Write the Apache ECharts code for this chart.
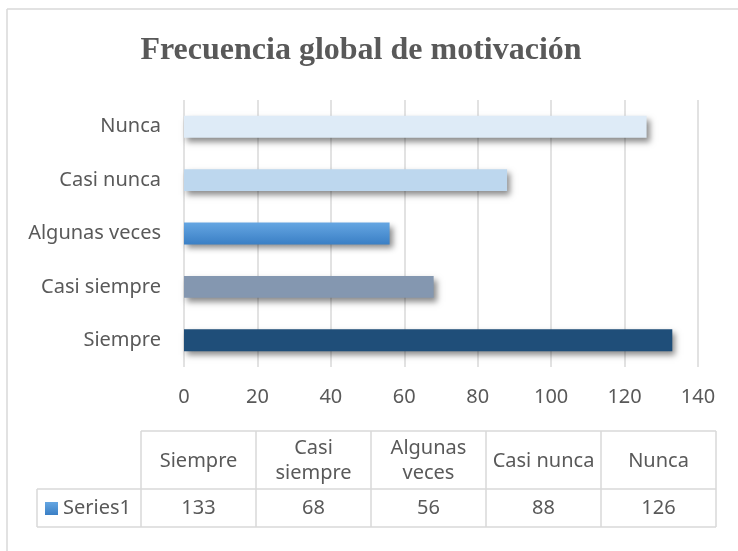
<!DOCTYPE html>
<html>
<head>
<meta charset="utf-8">
<script src="https://cdn.jsdelivr.net/npm/echarts@6/dist/echarts.min.js"></script>
<style>
  html, body { margin: 0; padding: 0; background: #fff; }
  #chart { width: 738px; height: 551px; }
</style>
</head>
<body>
<div id="chart"></div>
<script>
// categorías (de abajo hacia arriba) y valores
const categories = ['Siempre', 'Casi siempre', 'Algunas veces', 'Casi nunca', 'Nunca'];
const values = [133, 68, 56, 88, 126];
const seriesName = 'Series1';
const axisMin = 0;
const axisMax = 140;
const axisStep = 20;

const titleText = 'Frecuencia global de motivación';

// colores de cada barra
const blueGrad = { type: 'linear', x: 0, y: 0, x2: 0, y2: 1, colorStops: [{ offset: 0, color: '#65a6e2' }, { offset: 1, color: '#3a7fc5' }] };
const barColors = ['#1f4e79', '#8497b0', blueGrad, '#bdd7ee', '#deebf7'];

const textColor = '#595959';
const lineColor = '#d9d9d9';
const font = 'Noto Sans';
const fontSize = 20;

function buildTable () {
  const left = 141, colW = 115, top = 431, headH = 58, rowH = 38, keyLeft = 37;
  const right = left + colW * categories.length;
  const els = [];
  const css = fontSize + 'px "' + font + '"';
  const ctx = document.createElement('canvas').getContext('2d');
  ctx.font = css;

  const line = (x1, y1, x2, y2) => ({
    type: 'line', silent: true,
    shape: { x1: x1, y1: y1, x2: x2, y2: y2 },
    style: { stroke: lineColor, lineWidth: 1.5 }
  });
  const text = (x, y, s) => ({
    type: 'text', silent: true, x: x, y: y,
    style: { text: s, fill: textColor, font: css, align: 'center', verticalAlign: 'middle', lineHeight: 25 }
  });

  // marco exterior
  els.push(line(7, 9, 738, 9));
  els.push(line(7, 9, 7, 551));

  // líneas horizontales
  els.push(line(left, top, right, top));
  els.push(line(keyLeft, top + headH, right, top + headH));
  els.push(line(keyLeft, top + headH + rowH, right, top + headH + rowH));
  els.push(line(keyLeft, top + headH, keyLeft, top + headH + rowH));

  categories.forEach(function (name, i) {
    const x0 = left + colW * i;
    els.push(line(x0, top, x0, top + headH + rowH));
    let label = name;
    if (ctx.measureText(name).width > colW - 8) label = name.replace(' ', '\n');
    els.push(text(x0 + colW / 2, top + headH / 2 + 1, label));
    els.push(text(x0 + colW / 2, top + headH + rowH / 2, String(values[i])));
  });
  els.push(line(right, top, right, top + headH + rowH));

  // clave de la serie
  els.push({
    type: 'rect', silent: true,
    shape: { x: 45, y: top + headH + 13, width: 13, height: 13 },
    style: { fill: blueGrad }
  });
  els.push({
    type: 'text', silent: true, x: 63, y: top + headH + rowH / 2,
    style: { text: seriesName, fill: textColor, font: css, align: 'left', verticalAlign: 'middle' }
  });
  return els;
}

var myChart = echarts.init(document.getElementById('chart'));
var option = {
  backgroundColor: '#fff',
  animation: false,
  title: {
    text: titleText,
    left: 356,
    textAlign: 'center',
    top: 30,
    textStyle: { fontFamily: 'Liberation Serif', fontWeight: 'bold', fontSize: 32, color: textColor }
  },
  grid: { left: 184, right: 40, top: 100, bottom: 184, containLabel: false },
  xAxis: {
    type: 'value',
    min: axisMin,
    max: axisMax,
    interval: axisStep,
    axisLine: { show: false },
    axisTick: { show: false },
    axisLabel: { color: textColor, fontSize: fontSize, fontFamily: font, margin: 20 },
    splitLine: { show: true, lineStyle: { color: lineColor, width: 1.5 } }
  },
  yAxis: {
    type: 'category',
    data: categories,
    axisLine: { show: false },
    axisTick: { show: false },
    axisLabel: { color: textColor, fontSize: fontSize, fontFamily: font, margin: 23 }
  },
  series: [{
    name: seriesName,
    type: 'bar',
    barCategoryGap: '59%',
    data: values.map((v, i) => ({ value: v, itemStyle: { color: barColors[i] } })),
    itemStyle: {
      shadowBlur: 6,
      shadowColor: 'rgba(0,0,0,0.45)',
      shadowOffsetX: 3,
      shadowOffsetY: 4
    }
  }],
  graphic: buildTable()
};

option && myChart.setOption(option);
</script>
</body>
</html>
